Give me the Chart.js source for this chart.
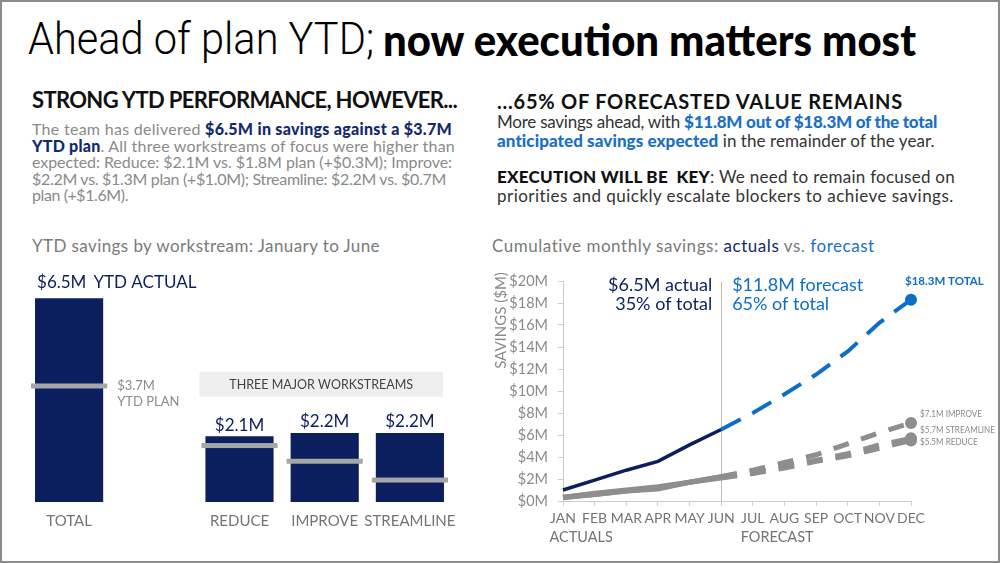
<!DOCTYPE html>
<html><head><meta charset="utf-8">
<script src="https://cdn.jsdelivr.net/npm/chart.js@4"></script>
<style>
html,body{margin:0;padding:0;background:#fff;}
#slide{position:relative;width:1000px;height:563px;overflow:hidden;font-family:Lato,"Noto Sans",sans-serif;background:#fff;}
#frame{position:absolute;left:0;top:0;width:1000px;height:563px;box-sizing:border-box;border:2px solid #8c8c8c;pointer-events:none;z-index:10;}
.abs{position:absolute;white-space:nowrap;}
.ln{display:block;white-space:nowrap;}
.ln > span.w{display:inline-block;}
.t1{font-family:Roboto,"Liberation Sans",sans-serif;font-weight:300;font-size:44px;line-height:50px;color:#000;transform-origin:0 0;display:inline-block;}
.t2{font-family:Lato,sans-serif;font-weight:900;font-size:44px;line-height:50px;color:#000;transform-origin:0 0;display:inline-block;}
.head{font-weight:700;color:#111;}
.bodyL{font-size:16px;line-height:16.6px;color:#8a8a8a;}
.bodyL b{color:#13296b;font-weight:900;}
.bodyR{font-size:17px;line-height:18.5px;color:#333;}
.bodyR b{color:#1a70c5;font-weight:900;}
.bodyR .k{color:#111;font-weight:900;}
.sub{font-size:17px;color:#7a7a7a;}
canvas{position:absolute;}
</style></head>
<body>
<div id="slide">
  <div id="t1" class="abs t1" style="left:28px;top:14px;">Ahead of plan YTD;</div>
  <div id="t2" class="abs t2" style="left:383px;top:14px;">now execution matters most</div>

  <div class="abs head" style="left:32px;top:87px;font-size:22px;line-height:26px;"><span class="w fit" data-w="425" style="display:inline-block">STRONG YTD PERFORMANCE, HOWEVER...</span></div>
  <div class="abs bodyL" style="left:32px;top:121px;">
    <span class="ln"><span class="w fit" data-w="420">The team has delivered <b>$6.5M in savings against a $3.7M</b></span></span>
    <span class="ln"><span class="w fit" data-w="423"><b>YTD plan</b>. All three workstreams of focus were higher than</span></span>
    <span class="ln"><span class="w fit" data-w="420">expected: Reduce: $2.1M vs. $1.8M plan (+$0.3M); Improve:</span></span>
    <span class="ln"><span class="w fit" data-w="414">$2.2M vs. $1.3M plan (+$1.0M); Streamline: $2.2M vs. $0.7M</span></span>
    <span class="ln"><span class="w fit" data-w="96">plan (+$1.6M).</span></span>
  </div>

  <div class="abs head" style="left:497px;top:89px;font-size:20px;line-height:24px;"><span class="w fit" data-w="406" style="display:inline-block">...65% OF FORECASTED VALUE REMAINS</span></div>
  <div class="abs bodyR" style="left:497px;top:113px;">
    <span class="ln"><span class="w fit" data-w="440">More savings ahead, with <b>$11.8M out of $18.3M of the total</b></span></span>
    <span class="ln"><span class="w fit" data-w="438"><b>anticipated savings expected</b> in the remainder of the year.</span></span>
  </div>
  <div class="abs bodyR" style="left:497px;top:168px;">
    <span class="ln"><span class="w fit" data-w="458"><span class="k">EXECUTION WILL BE&nbsp; KEY</span>: We need to remain focused on</span></span>
    <span class="ln"><span class="w fit" data-w="457">priorities and quickly escalate blockers to achieve savings.</span></span>
  </div>

  <div class="abs sub" style="left:32px;top:235px;"><span class="w fit" data-w="348" style="display:inline-block">YTD savings by workstream: January to June</span></div>
  <div class="abs sub" style="left:492px;top:235px;"><span class="w fit" data-w="383" style="display:inline-block">Cumulative monthly savings: <span style="color:#13296b">actuals</span> vs. <span style="color:#1a70c5">forecast</span></span></div>

  <canvas id="barChart" style="left:0px;top:262px;width:480px;height:290px;" width="480" height="290"></canvas>
  <canvas id="lineChart" style="left:490px;top:262px;width:510px;height:290px;" width="510" height="290"></canvas>
  <div id="frame"></div>
</div>
<script>
// ---------- DATA ----------
const barCategories = ['TOTAL', '', 'REDUCE', 'IMPROVE', 'STREAMLINE'];
const barActual = [6.5, null, 2.1, 2.2, 2.2];
const barPlan = [3.7, null, 1.8, 1.3, 0.7];
const barValueLabels = ['$6.5M', '', '$2.1M', '$2.2M', '$2.2M'];

const months = ['JAN','FEB','MAR','APR','MAY','JUN','JUL','AUG','SEP','OCT','NOV','DEC'];
const totalActual = [1.0, 1.9, 2.8, 3.6, 5.1, 6.5];
const totalForecast = [null, null, null, null, null, 6.5, 8.0, 9.7, 11.5, 13.6, 16.2, 18.3];
const reduceActual = [0.35, 0.6, 0.9, 1.2, 1.7, 2.1];
const reduceForecast = [null, null, null, null, null, 2.1, 2.5, 3.0, 3.6, 4.1, 4.8, 5.5];
const improveActual = [0.3, 0.6, 0.9, 1.1, 1.7, 2.2];
const improveForecast = [null, null, null, null, null, 2.2, 2.8, 3.5, 4.2, 5.2, 6.2, 7.1];
const streamlineActual = [0.35, 0.7, 1.0, 1.3, 1.7, 2.2];
const streamlineForecast = [null, null, null, null, null, 2.2, 2.7, 3.2, 3.7, 4.3, 5.1, 5.7];
const yTickValues = [0, 2, 4, 6, 8, 10, 12, 14, 16, 18, 20];

// ---------- styles ----------
const NAVY = '#0b1f5e';
const BLUE = '#0b6fc7';
const GRAY = '#8e8e8e';
const PLANGRAY = '#a6a6a6';
const LABELGRAY = '#747474';
const FONT = 'Lato, "Noto Sans", sans-serif';

// fit title spans and text lines
function fitSpan(id, w){ const el=document.getElementById(id); const cur=el.getBoundingClientRect().width; el.style.transform='scaleX('+(w/cur)+')'; }
fitSpan('t1', 346); fitSpan('t2', 533);
document.querySelectorAll('.fit').forEach(el => {
  const target = parseFloat(el.dataset.w);
  el.style.letterSpacing = '0px';
  const w = el.getBoundingClientRect().width;
  const n = el.textContent.length;
  el.style.letterSpacing = ((target - w) / n) + 'px';
});

Chart.defaults.font.family = FONT;
Chart.defaults.animation = false;

// ---------- BAR CHART ----------
const barPlugin = {
  id: 'barPlugin',
  beforeDatasetsDraw(chart){
    const ctx = chart.ctx; const meta = chart.getDatasetMeta(0);
    const r = meta.data[2], s = meta.data[4];
    const left = r.x - r.width/2 - 6, right = s.x + s.width/2 - 1;
    ctx.save();
    ctx.fillStyle = '#efefef';
    ctx.fillRect(left, 371.7-262, right-left, 25);
    ctx.fillStyle = '#444'; ctx.font = '12.5px ' + FONT; ctx.textAlign='center'; ctx.textBaseline='middle';
    ctx.fillText('THREE MAJOR WORKSTREAMS', (left+right)/2, 384.5-262);
    ctx.restore();
  },
  afterDatasetsDraw(chart){
    const ctx = chart.ctx; const meta = chart.getDatasetMeta(0); const y = chart.scales.y;
    ctx.save();
    barPlan.forEach((p,i)=>{
      if(p==null) return;
      const el = meta.data[i];
      const py = y.getPixelForValue(p);
      ctx.fillStyle = PLANGRAY;
      ctx.fillRect(el.x - el.width/2 - 4, py - 2.5, el.width + 8, 5);
    });
    ctx.textBaseline='middle';
    barValueLabels.forEach((t,i)=>{
      if(!t) return;
      const el = meta.data[i];
      ctx.fillStyle = NAVY; ctx.font = '17px ' + FONT;
      if(i===0){
        ctx.textAlign='left';
        const lx = el.x - el.width/2 + 2;
        ctx.fillText(t, lx, el.y - 16);
        ctx.fillText('YTD ACTUAL', lx + ctx.measureText(t).width + 7, el.y - 16);
      } else {
        ctx.textAlign='center';
        ctx.fillText(t, el.x, el.y - 11);
      }
    });
    const t0 = meta.data[0];
    const py0 = y.getPixelForValue(barPlan[0]);
    ctx.fillStyle = '#8a8a8a'; ctx.font = '13px ' + FONT; ctx.textAlign='left';
    ctx.fillText('$3.7M', t0.x + t0.width/2 + 14, py0);
    ctx.fillText('YTD PLAN', t0.x + t0.width/2 + 14, py0 + 16);
    ctx.restore();
  }
};

new Chart(document.getElementById('barChart'), {
  type: 'bar',
  data: { labels: barCategories, datasets: [{ data: barActual, backgroundColor: NAVY, barPercentage: 0.8, categoryPercentage: 1.0 }] },
  options: {
    responsive: false, maintainAspectRatio: false,
    layout: { padding: { left: 26.5, right: 27.5, top: 20.5, bottom: 0 } },
    plugins: { legend: { display: false }, tooltip: { enabled: false } },
    scales: {
      x: { grid: { display: false, drawTicks: false }, border: { display: false },
           ticks: { color: LABELGRAY, font: { size: 15 }, padding: 10, maxRotation: 0, minRotation: 0, autoSkip: false },
           afterFit(s){ s.height = 50; } },
      y: { display: false, min: 0, max: 7 }
    }
  },
  plugins: [barPlugin]
});

// ---------- LINE CHART ----------
function scaledText(ctx, text, x, y, sx){
  ctx.save(); ctx.translate(x, y); ctx.scale(sx, 1); ctx.fillText(text, 0, 0); ctx.restore();
}
const linePlugin = {
  id: 'linePlugin',
  beforeDatasetsDraw(chart){
    const ctx = chart.ctx; const x = chart.scales.x; const a = chart.chartArea;
    const jx = Math.round(x.getPixelForValue(5)) + 0.5;
    ctx.save();
    ctx.strokeStyle = '#bdbdbd'; ctx.lineWidth = 1;
    ctx.beginPath(); ctx.moveTo(jx, a.top + 1); ctx.lineTo(jx, a.bottom); ctx.stroke();
    ctx.restore();
  },
  afterDraw(chart){
    const ctx = chart.ctx; const x = chart.scales.x; const y = chart.scales.y;
    const jx = x.getPixelForValue(5), dx = x.getPixelForValue(11);
    ctx.save();
    ctx.textBaseline = 'middle';
    ctx.font = '18px ' + FONT;
    ctx.fillStyle = NAVY; ctx.textAlign = 'right';
    ctx.fillText('$6.5M actual', jx - 9, 285 - 262);
    ctx.fillText('35% of total', jx - 9, 304 - 262);
    ctx.fillStyle = BLUE; ctx.textAlign = 'left';
    ctx.fillText('$11.8M forecast', jx + 11, 285 - 262);
    ctx.fillText('65% of total', jx + 11, 304 - 262);
    ctx.font = 'bold 11.5px ' + FONT;
    ctx.fillText('$18.3M TOTAL', dx - 6, y.getPixelForValue(totalForecast[11]) - 18);
    ctx.fillStyle = '#8a8a8a'; ctx.font = '10px ' + FONT;
    const sx = Math.min(1, 75 / ctx.measureText('$5.7M STREAMLINE').width);
    scaledText(ctx, '$7.1M IMPROVE', dx + 9, y.getPixelForValue(improveForecast[11]) - 9, sx);
    scaledText(ctx, '$5.7M STREAMLINE', dx + 9, y.getPixelForValue(streamlineForecast[11]) - 9, sx);
    scaledText(ctx, '$5.5M REDUCE', dx + 9, y.getPixelForValue(reduceForecast[11]) + 1, sx);
    ctx.fillStyle = LABELGRAY; ctx.font = '14.5px ' + FONT;
    const wJan = ctx.measureText('JAN').width, wJul = ctx.measureText('JUL').width;
    ctx.fillText('ACTUALS', x.getPixelForValue(0) - wJan/2, 537 - 262);
    ctx.fillText('FORECAST', x.getPixelForValue(6) - wJul/2, 537 - 262);
    ctx.translate(11, 320.5 - 262); ctx.rotate(-Math.PI/2);
    ctx.textAlign = 'center'; ctx.font = '15px ' + FONT; ctx.fillStyle = '#8a8a8a';
    ctx.fillText('SAVINGS ($M)', 0, 0);
    ctx.restore();
  }
};

const lastPoint = (r) => (ctx) => ctx.dataIndex === 11 ? r : 0;
new Chart(document.getElementById('lineChart'), {
  type: 'line',
  data: {
    labels: months,
    datasets: [
      { data: totalActual, borderColor: NAVY, borderWidth: 3.5, pointRadius: 0, tension: 0 },
      { data: totalForecast, borderColor: BLUE, borderWidth: 4, borderDash: [22, 13], pointRadius: lastPoint(6), pointBackgroundColor: BLUE, pointBorderWidth: 0, tension: 0 },
      { data: improveActual, borderColor: GRAY, borderWidth: 5, pointRadius: 0 },
      { data: improveForecast, borderColor: GRAY, borderWidth: 5, borderDash: [16, 13], pointRadius: lastPoint(6), pointBackgroundColor: GRAY, pointBorderWidth: 0 },
      { data: streamlineActual, borderColor: GRAY, borderWidth: 5, pointRadius: 0 },
      { data: streamlineForecast, borderColor: GRAY, borderWidth: 5, borderDash: [16, 13], pointRadius: lastPoint(6), pointBackgroundColor: GRAY, pointBorderWidth: 0 },
      { data: reduceActual, borderColor: GRAY, borderWidth: 5, pointRadius: 0 },
      { data: reduceForecast, borderColor: GRAY, borderWidth: 5, borderDash: [16, 13], pointRadius: lastPoint(6), pointBackgroundColor: GRAY, pointBorderWidth: 0 }
    ]
  },
  options: {
    responsive: false, maintainAspectRatio: false,
    layout: { padding: { left: 0, right: 89, top: 19, bottom: 0 } },
    plugins: { legend: { display: false }, tooltip: { enabled: false } },
    scales: {
      x: { grid: { drawOnChartArea: false, color: '#cccccc', tickLength: 5 }, border: { color: '#cccccc' },
           ticks: { color: LABELGRAY, font: { size: 14 }, padding: 4, maxRotation: 0, minRotation: 0, autoSkip: false },
           afterFit(s){ s.height = 51; } },
      y: { min: 0, max: 20, grid: { drawOnChartArea: false, color: '#cccccc', tickLength: 5 }, border: { color: '#cccccc' },
           afterBuildTicks(s){ s.ticks = yTickValues.map(v => ({ value: v })); },
           ticks: { color: '#8a8a8a', font: { size: 14.5 }, padding: 10, autoSkip: false, callback: v => '$' + v + 'M' },
           afterFit(s){ s.width = 73; } }
    }
  },
  plugins: [linePlugin]
});
</script>
</body></html>
